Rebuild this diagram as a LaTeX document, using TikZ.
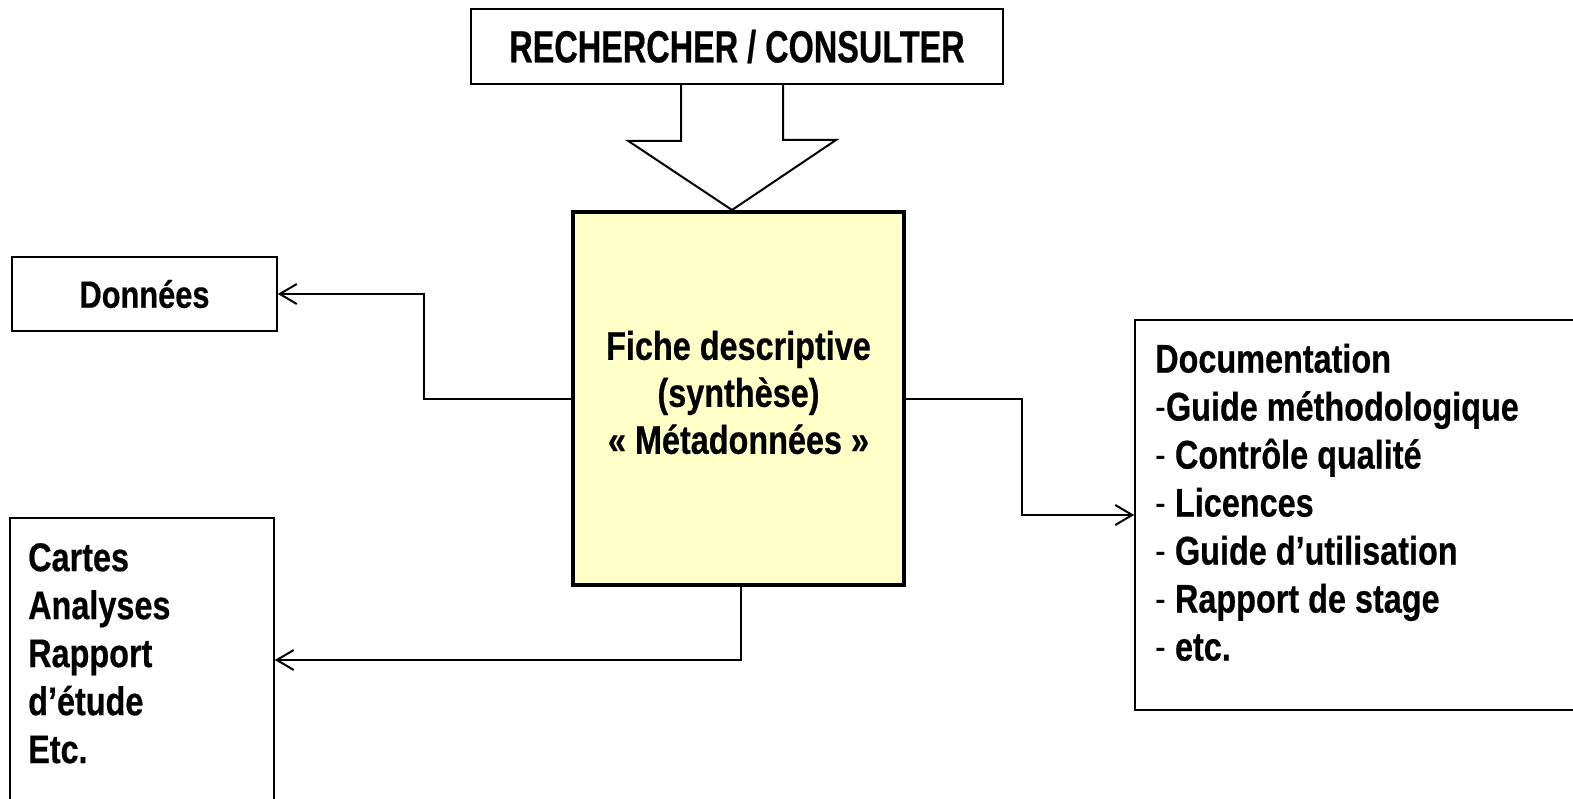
\documentclass[tikz,border=0pt]{standalone}
\usepackage{fontspec}
\setmainfont[FakeStretch=0.81, BoldFeatures={FakeBold=0.5}]{Liberation Sans}
\usetikzlibrary{arrows.meta,positioning}
\definecolor{fichefill}{HTML}{FFFFC8}

\tikzset{
  box/.style={draw, line width=1.6pt, inner sep=0pt},
  fichebox/.style={draw, line width=3.5pt, fill=fichefill, inner sep=0pt},
  fichetext/.style={align=center, inner sep=0pt, font=\bfseries\fontsize{40}{47}\selectfont},
  listtext/.style={align=left, inner sep=0pt, font=\bfseries\fontsize{40}{48}\selectfont},
  link/.style={line width=2pt, -{Straight Barb[length=17pt,width=20pt,line width=2pt]}},
  hollow/.style={draw, line width=2pt, line join=miter}
}

\begin{document}
\begin{tikzpicture}[x=1pt,y=-1pt]
  \fill[white] (0,0) rectangle (1573,799);
  \useasboundingbox (0,0) rectangle (1573,799);

  \node[box, minimum width=532pt, minimum height=75pt, font=\bfseries\fontsize{45}{54}\selectfont]
    (rech) at (737,46.5) {\scalebox{0.89}[1]{RECHERCHER / CONSULTER}};
  \node[fichebox, minimum width=331pt, minimum height=373pt] (fiche) at (738.5,398.5) {};
  \node[fichetext] (fichelabel) at ([yshift=6pt]fiche.center)
    {Fiche descriptive\\(synthèse)\\« Métadonnées »};
  \node[box, minimum width=265pt, minimum height=74pt, font=\bfseries\fontsize{38}{46}\selectfont]
    (donnees) at (144.5,294) {Données};
  \node[box, minimum width=264pt, minimum height=284pt] (sorties) at (142,660) {};
  \node[box, minimum width=490pt, minimum height=390pt] (doc) at (1380,515) {};

  \node[listtext, anchor=north west] (sortieslist) at (28,543)
    {Cartes\\Analyses\\Rapport\\d’étude\\Etc.};
  \node[listtext, anchor=north west] (doclist) at (1155,343.4)
    {Documentation\\{\mdseries -}Guide méthodologique\\{\mdseries -} Contrôle qualité\\
     {\mdseries -} Licences\\{\mdseries -} Guide d’utilisation\\{\mdseries -} Rapport de stage\\
     {\mdseries -} etc.};

  % big hollow arrow
  \coordinate (tip) at (732,210);
  \draw[hollow] ([xshift=-56pt]rech.south) -- ++(0,56) -- ++(-53,0) -- (tip)
    -- ++(104,-70) -- ++(-53,0) -- ([xshift=46pt]rech.south);

  \draw[link] (fiche.west) -- ++(-147,0) |- (donnees.east);
  \draw[link] ([xshift=2.5pt]fiche.south) |- (sorties.east);
  \draw[link] (fiche.east) -- ++(116,0) |- (doc.west);
\end{tikzpicture}
\end{document}
